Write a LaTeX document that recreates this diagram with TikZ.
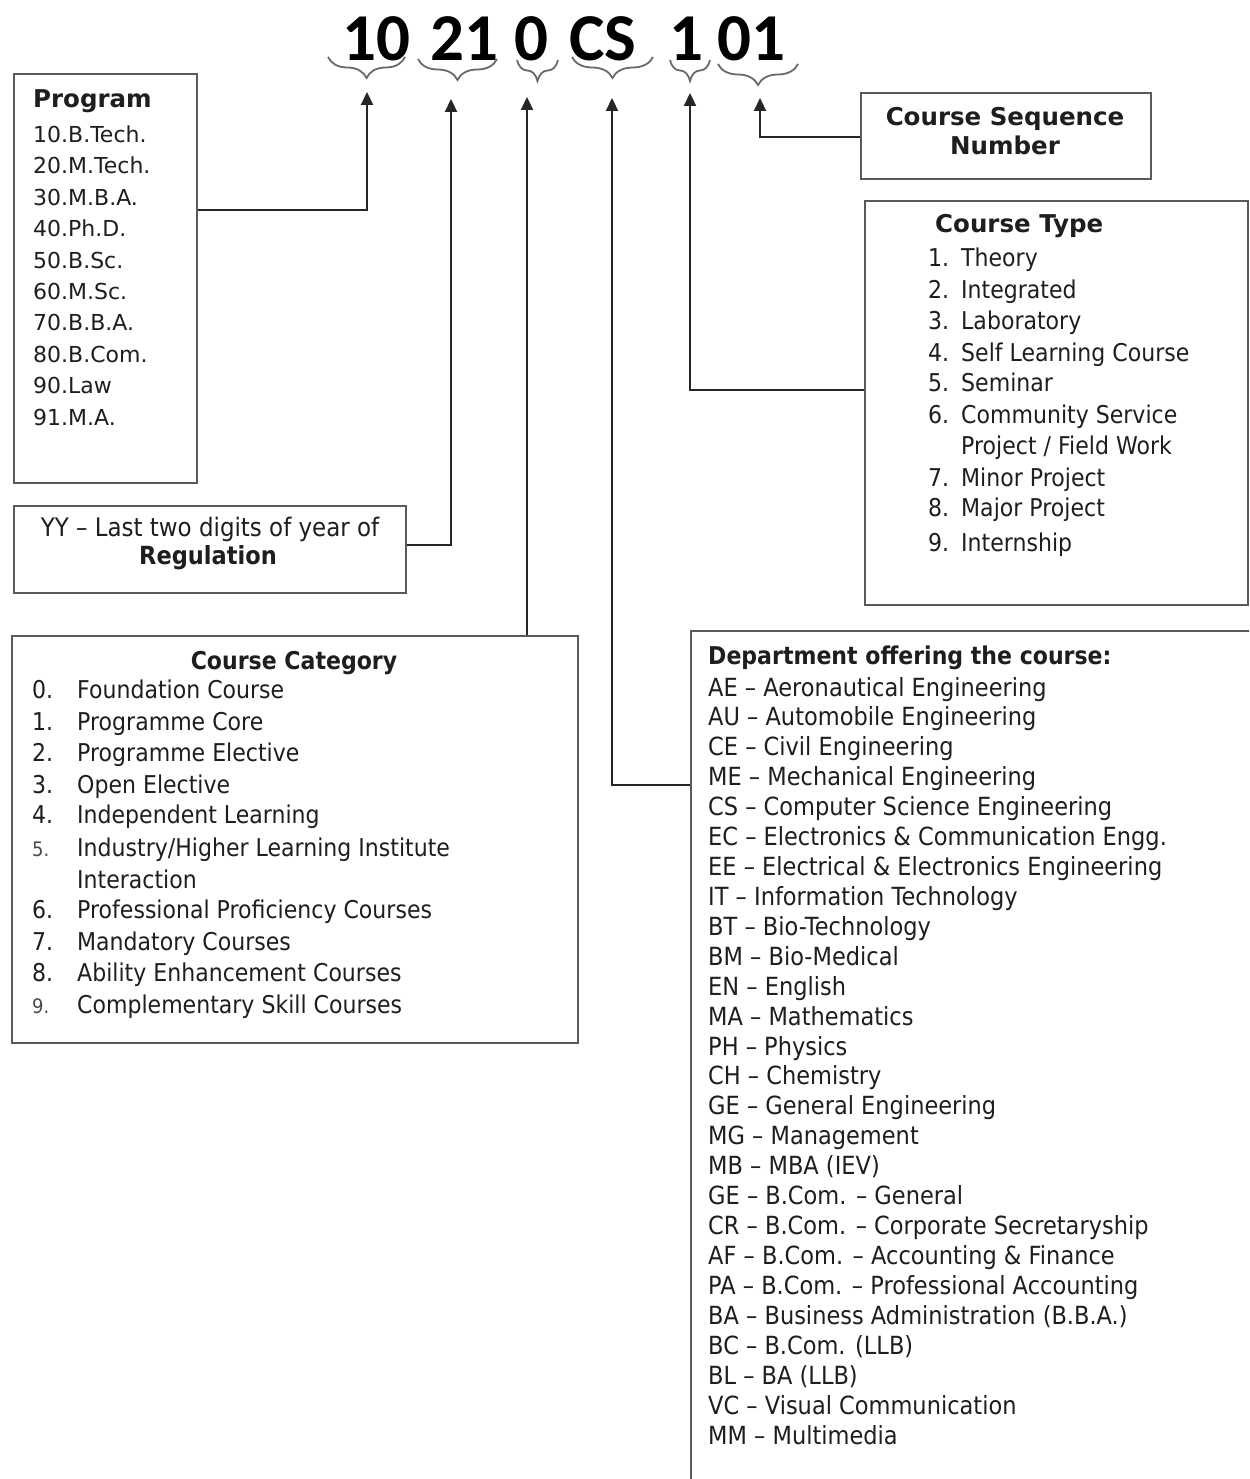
\documentclass[tikz,border=0pt]{standalone}
\usepackage{fontspec}
\setmainfont{DejaVu Sans}
\newfontfamily\codefont{Carlito}
\newfontfamily\tah[FakeStretch=0.9]{DejaVu Sans}
\usetikzlibrary{arrows.meta,decorations.pathreplacing}
\definecolor{boxgray}{HTML}{5A5A5A}
\definecolor{txt}{HTML}{1E1E1E}
\definecolor{bracegray}{HTML}{6A6A6A}
\tikzset{
  box/.style={draw=boxgray, line width=2pt, inner sep=0pt, anchor=north west},
  conn/.style={draw=black!85, line width=2.2pt, -{Triangle[length=13pt,width=12pt]}},
  brc/.style={draw=bracegray, line width=1.8pt, decorate, decoration={brace, mirror, amplitude=21pt}},
  code/.style={font=\codefont\bfseries\fontsize{67}{70}\selectfont, anchor=base west, inner sep=0pt, text=black},
  hd/.style={font=\bfseries\fontsize{24.5}{29}\selectfont, anchor=base west, inner sep=0pt, text=txt},
  thd/.style={font=\tah\bfseries\fontsize{24.5}{29}\selectfont, anchor=base west, inner sep=0pt, text=txt},
  pg/.style={font=\fontsize{22}{26}\selectfont, anchor=base west, inner sep=0pt, text=txt},
  it/.style={font=\tah\fontsize{24.5}{29}\selectfont, anchor=base west, inner sep=0pt, text=txt},
  dp/.style={font=\tah\fontsize{25}{29}\selectfont, anchor=base west, inner sep=0pt, text=txt},
  sm/.style={font=\tah\fontsize{20}{24}\selectfont, anchor=base west, inner sep=0pt, text=txt!80!white}
}
\begin{document}
\begin{tikzpicture}[x=1pt,y=-1pt]
\path[use as bounding box, fill=white] (0,0) rectangle (1249,1479);

% ---- code at the top
\node[code] (c1) at (342,61) {10};
\node[code] (c2) at (430,61) {21};
\node[code] (c3) at (514,61) {0};
\node[code] (c4) at (569,61) {CS};
\node[code] (c5) at (669,61) {1};
\node[code] (c6) at (717,61) {01};

% ---- braces
\draw[brc] (328,57) -- (405,57);
\draw[brc] (418,59) -- (497,59);
\draw[brc] (517,60) -- (558,60);
\draw[brc] (572,57) -- (653,57);
\draw[brc] (670,60) -- (710,60);
\draw[brc] (718,64) -- (798,64);

% ---- arrow tips
\coordinate (a1) at (367,92);
\coordinate (a2) at (451,99);
\coordinate (a3) at (527,97);
\coordinate (a4) at (612,98);
\coordinate (a5) at (690,93);
\coordinate (a6) at (760,98);

% ---- Program box
\node[box, minimum width=183pt, minimum height=409pt] (prog) at (13,73) {};
\node[hd] (progt) at (33,108) {Program};
\foreach \t [count=\i] in {10.B.Tech.,20.M.Tech.,30.M.B.A.,40.Ph.D.,50.B.Sc.,60.M.Sc.,70.B.B.A.,80.B.Com.,90.Law,91.M.A.}
  \node[pg] (prog\i) at (33,{142.5+31.4*(\i-1)}) {\t};

% ---- YY box
\node[box, minimum width=392pt, minimum height=87pt] (yy) at (13,505) {};
\node[font=\tah\fontsize{25.5}{29}\selectfont, anchor=base, inner sep=0pt, text=txt] (yy1) at (210,536) {YY – Last two digits of year of};
\node[font=\tah\bfseries\fontsize{25}{29}\selectfont, anchor=base, inner sep=0pt, text=txt] (yy2) at (208,564) {Regulation};

% ---- Course Category box
\node[box, minimum width=566pt, minimum height=407pt] (cat) at (11,635) {};
\node[thd, anchor=base] (catt) at (294,669) {Course Category};
\foreach \y/\n/\t [count=\i] in {698/0./Foundation Course, 730/1./Programme Core, 761/2./Programme Elective, 793/3./Open Elective, 823/4./Independent Learning, 856/5./{Industry/Higher Learning Institute}, 888//Interaction, 918/6./Professional Proficiency Courses, 950/7./Mandatory Courses, 981/8./Ability Enhancement Courses, 1013/9./Complementary Skill Courses}
{
  \node[it] (catt\i) at (77,\y) {\t};
}
\foreach \y/\n [count=\i] in {698/0., 730/1., 761/2., 793/3., 823/4., 918/6., 950/7., 981/8.}
  \node[it] (catn\i) at (32,\y) {\n};
\node[sm] (catn5) at (32,856) {5.};
\node[sm] (catn9) at (32,1013) {9.};

% ---- Course Sequence Number box
\node[box, minimum width=290pt, minimum height=86pt] (seq) at (860,92) {};
\node[hd, anchor=base] (seq1) at (1005,126) {Course Sequence};
\node[hd, anchor=base] (seq2) at (1005,155) {Number};

% ---- Course Type box
\node[box, minimum width=383pt, minimum height=404pt] (type) at (864,200) {};
\node[hd] (typet) at (935,233) {Course Type};
\foreach \y/\n/\t [count=\i] in {266/1./Theory, 298/2./Integrated, 329/3./Laboratory, 361/4./Self Learning Course, 391/5./Seminar, 423/6./Community Service, 486/7./Minor Project, 516/8./Major Project, 551/9./Internship}
{
  \node[it] (typen\i) at (928,\y) {\n};
  \node[it] (typet\i) at (961,\y) {\t};
}
\node[it] (typex) at (961,454) {Project / Field Work};

% ---- Department box (runs off the page)
\begin{scope}
\clip (0,0) rectangle (1249,1479);
\node[box, minimum width=572pt, minimum height=865pt] (dept) at (690,630) {};
\end{scope}
\node[thd] (deptt) at (708,664) {Department offering the course:};
\foreach \t [count=\i] in {AE – Aeronautical Engineering, AU – Automobile Engineering, CE – Civil Engineering, ME – Mechanical Engineering, CS – Computer Science Engineering, EC – Electronics \& Communication Engg., EE – Electrical \& Electronics Engineering, IT – Information Technology, BT – Bio-Technology, BM – Bio-Medical, EN – English, MA – Mathematics, PH – Physics, CH – Chemistry, GE – General Engineering, MG – Management, MB – MBA (IEV), GE – B.Com. – General, CR – B.Com. – Corporate Secretaryship, AF – B.Com. – Accounting \& Finance, PA – B.Com. – Professional Accounting, BA – Business Administration (B.B.A.), BC – B.Com. (LLB), BL – BA (LLB), VC – Visual Communication, MM – Multimedia}
  \node[dp] (dept\i) at (708,{696+29.92*(\i-1)}) {\t};

% ---- connectors
\draw[conn] (prog.east |- 0,210) -| (a1);
\draw[conn] (yy.east |- 0,545) -| (a2);
\draw[conn] (cat.north -| a3) -- (a3);
\draw[conn] (dept.west |- 0,785) -| (a4);
\draw[conn] (type.west |- 0,390) -| (a5);
\draw[conn] (seq.west |- 0,137) -| (a6);
\end{tikzpicture}
\end{document}
